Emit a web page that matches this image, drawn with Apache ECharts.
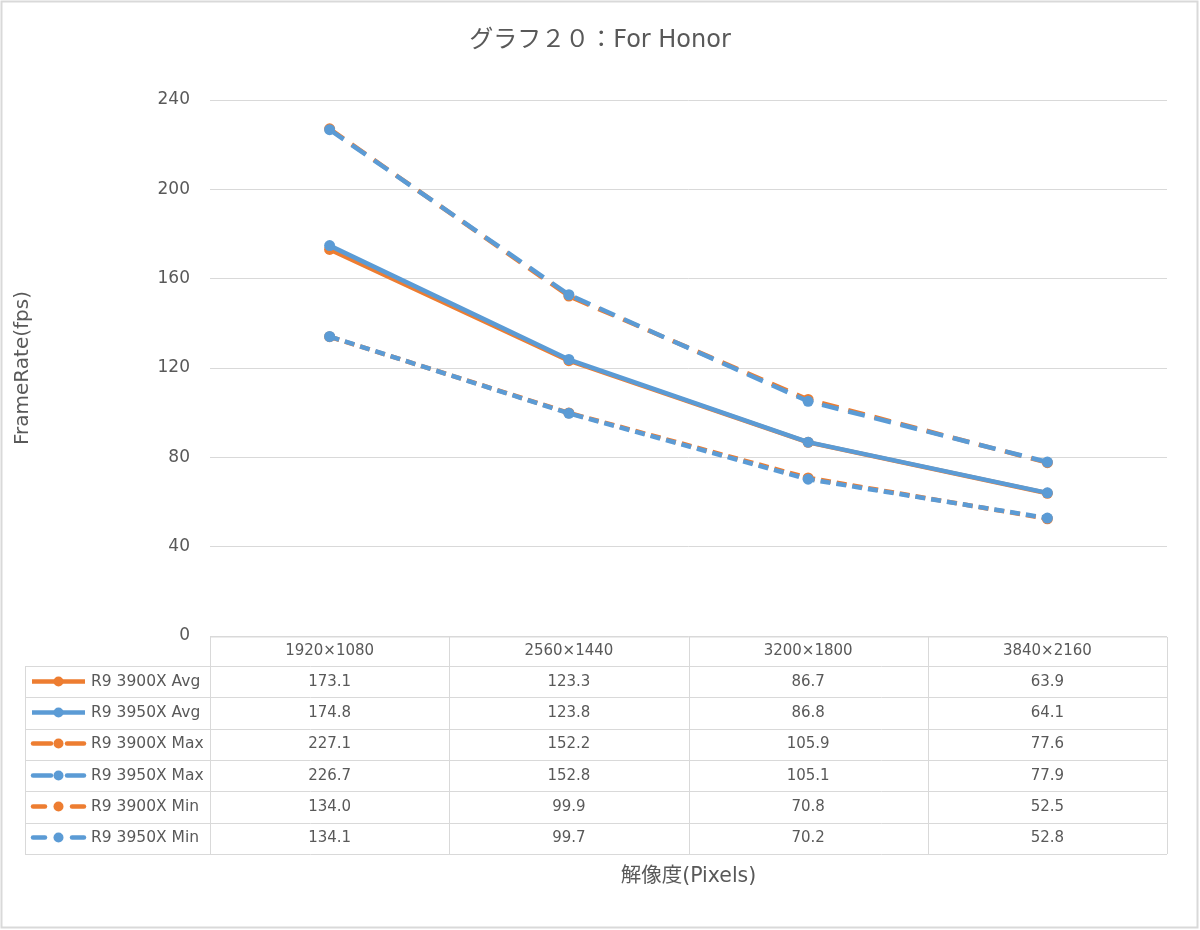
<!DOCTYPE html>
<html>
<head>
<meta charset="utf-8">
<script src="https://cdn.jsdelivr.net/npm/echarts@6/dist/echarts.min.js"></script>
<style>
html,body{margin:0;padding:0;background:#fff;}
#c{width:1200px;height:930px;}
</style>
</head>
<body>
<div id="c"></div>
<script>
// ---- data ----
const titleText = 'グラフ２０：For Honor';
const yAxisTitle = 'FrameRate(fps)';
const xAxisTitle = '解像度(Pixels)';
const categories = ['1920×1080', '2560×1440', '3200×1800', '3840×2160'];
const seriesNames = ['R9 3900X Avg', 'R9 3950X Avg', 'R9 3900X Max', 'R9 3950X Max', 'R9 3900X Min', 'R9 3950X Min'];
const r9_3900x_avg = [173.1, 123.3, 86.7, 63.9];
const r9_3950x_avg = [174.8, 123.8, 86.8, 64.1];
const r9_3900x_max = [227.1, 152.2, 105.9, 77.6];
const r9_3950x_max = [226.7, 152.8, 105.1, 77.9];
const r9_3900x_min = [134.0, 99.9, 70.8, 52.5];
const r9_3950x_min = [134.1, 99.7, 70.2, 52.8];
const yTicks = [0, 40, 80, 120, 160, 200, 240];

// ---- styles ----
const ORANGE = '#ED7D31';
const BLUE = '#5B9BD5';
const TXT = '#595959';
const GRIDC = '#d9d9d9';
const FONT = '"DejaVu Sans", "Noto Sans CJK JP", sans-serif';

const seriesData = [r9_3900x_avg, r9_3950x_avg, r9_3900x_max, r9_3950x_max, r9_3900x_min, r9_3950x_min];
const seriesColors = [ORANGE, BLUE, ORANGE, BLUE, ORANGE, BLUE];
const kinds = ['avg', 'avg', 'max', 'max', 'min', 'min'];
const dashFor = {avg: 'solid', max: [17, 10], min: [10, 6]};

// layout
const W = 1200, H = 930;
const gridL = 210, gridR = 1167, gridT = 100, gridB = 636;
const tableLeft = 25;
const headerTop = 637, headerBottom = 666;
const rowH = (854 - 666) / seriesNames.length;

const chart = echarts.init(document.getElementById('c'), null, {renderer: 'canvas'});

const series = seriesNames.map((n, i) => ({
  name: n,
  type: 'line',
  data: seriesData[i],
  symbol: 'circle',
  symbolSize: 11,
  showSymbol: true,
  lineStyle: {color: seriesColors[i], width: 4.5, type: dashFor[kinds[i]], cap: 'butt'},
  itemStyle: {color: seriesColors[i]},
  z: 2 + i,
  animation: false
}));

const g = [];
// outer border
g.push({type: 'rect', shape: {x: 1.5, y: 1.5, width: W - 4, height: H - 4}, style: {fill: null, stroke: GRIDC, lineWidth: 2}, silent: true});

const colW = (gridR - gridL) / categories.length;
const tableBottom = headerBottom + rowH * seriesNames.length;
const lineStyle = {stroke: GRIDC, lineWidth: 1};
// header top line
g.push({type: 'line', shape: {x1: gridL, y1: headerTop, x2: gridR, y2: headerTop}, style: lineStyle});
// row lines
for (let r = 0; r <= seriesNames.length; r++) {
  const y = Math.round(headerBottom + r * rowH) + 0.5;
  g.push({type: 'line', shape: {x1: tableLeft, y1: y, x2: gridR, y2: y}, style: lineStyle});
}
// vertical lines
g.push({type: 'line', shape: {x1: tableLeft + 0.5, y1: headerBottom, x2: tableLeft + 0.5, y2: tableBottom}, style: lineStyle});
for (let c = 0; c <= categories.length; c++) {
  const x = Math.round(gridL + c * colW) + 0.5;
  g.push({type: 'line', shape: {x1: x, y1: headerTop, x2: x, y2: tableBottom}, style: lineStyle});
}
// header texts
categories.forEach((cat, c) => {
  g.push({type: 'text', x: gridL + (c + 0.5) * colW, y: (headerTop + headerBottom) / 2,
    style: {text: cat, fill: TXT, font: '15px ' + FONT, align: 'center', verticalAlign: 'middle'}});
});
// rows
seriesNames.forEach((n, r) => {
  const cy = headerBottom + (r + 0.5) * rowH;
  const col = seriesColors[r];
  const k = kinds[r];
  const icy = Math.round(cy) - 0.5;
  const seg = {avg: [[32, 85]], max: [[33, 51], [67, 84]], min: [[33, 45], [72, 84]]}[k];
  seg.forEach(s => g.push({type: 'line', shape: {x1: s[0], y1: icy, x2: s[1], y2: icy},
    style: {stroke: col, lineWidth: 4.5, lineCap: k === 'avg' ? 'butt' : 'round'}}));
  g.push({type: 'circle', shape: {cx: 58.5, cy: icy, r: 5}, style: {fill: col}});
  g.push({type: 'text', x: 91, y: cy, style: {text: n, fill: TXT, font: '15.5px ' + FONT, align: 'left', verticalAlign: 'middle'}});
  seriesData[r].forEach((v, c) => {
    g.push({type: 'text', x: gridL + (c + 0.5) * colW, y: cy,
      style: {text: v.toFixed(1), fill: TXT, font: '15px ' + FONT, align: 'center', verticalAlign: 'middle'}});
  });
});
// x axis title
g.push({type: 'text', x: (gridL + gridR) / 2, y: 877,
  style: {text: xAxisTitle, fill: TXT, font: '20.5px ' + FONT, align: 'center', verticalAlign: 'middle'}});

const option = {
  backgroundColor: '#fff',
  animation: false,
  title: {text: titleText, left: 'center', top: 24,
    textStyle: {color: TXT, fontSize: 24, fontWeight: 'normal', fontFamily: FONT}},
  grid: {left: gridL, right: W - gridR, top: gridT, bottom: H - gridB, containLabel: false},
  xAxis: {type: 'category', data: categories, boundaryGap: true,
    axisLine: {show: false}, axisTick: {show: false}, axisLabel: {show: false}, splitLine: {show: false}},
  yAxis: {type: 'value', min: yTicks[0], max: yTicks[yTicks.length - 1], interval: yTicks[1] - yTicks[0],
    name: yAxisTitle, nameLocation: 'middle', nameGap: 177, nameRotate: 90,
    nameTextStyle: {color: TXT, fontSize: 20, fontFamily: FONT},
    axisLine: {show: false}, axisTick: {show: false},
    axisLabel: {color: TXT, fontSize: 17, fontFamily: FONT, margin: 20},
    splitLine: {lineStyle: {color: GRIDC, width: 1}}},
  series: series,
  graphic: {elements: g}
};
chart.setOption(option);
</script>
</body>
</html>
